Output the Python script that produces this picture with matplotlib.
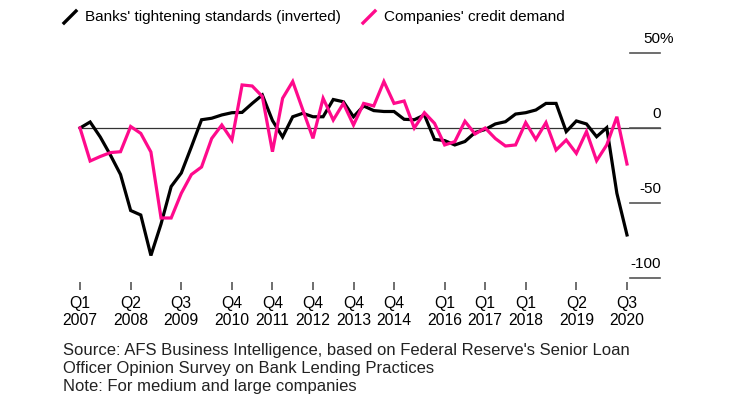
import matplotlib.pyplot as plt
import matplotlib.transforms as mtransforms
from matplotlib.lines import Line2D

plt.rcParams['font.family'] = ['Liberation Sans', 'DejaVu Sans']

# quarterly survey readings, Q1 2007 .. Q3 2020
banks = [0, 4, -6, -18, -31, -55, -58, -85, -64, -39, -30, -12.5, 5.5, 6.5, 8.7,
         10.2, 10.4, 16.4, 22, 5, -6, 7.5, 9.8, 7.5, 7.5, 19, 17.5, 7.5, 14.7, 11.6,
         11, 11, 5.8, 5.5, 8.7, -7.6, -8.4, -11.3, -9, -3, -1, 2.7, 4.2, 9.3, 10.2,
         12, 16.4, 16.4, -2.4, 4.7, 2.7, -5.8, 0.2, -43.5, -71.3]
demand = [0, -22, -19, -16.4, -15.8, 1, -3.6, -16, -60, -60, -43.5, -31, -26, -7, 2,
          -8, 28.7, 28, 21, -15.8, 19.8, 31, 12, -6.9, 19.8, 5.3, 16.4, 2, 16.4, 14.7,
          31, 16.4, 18, 0, 10.2, 3.1, -11.3, -9.1, 4.5, -4, 0, -7, -12, -11.3, 3.6,
          -7.6, 3.6, -14.7, -8, -16.9, -2.4, -21.8, -11.3, 7.5, -24]
quarters = list(range(len(banks)))

tick_pos = [0, 5, 10, 15, 19, 23, 27, 31, 36, 40, 44, 49, 54]
tick_labels = ['Q1\n2007', 'Q2\n2008', 'Q3\n2009', 'Q4\n2010', 'Q4\n2011', 'Q4\n2012',
               'Q4\n2013', 'Q4\n2014', 'Q1\n2016', 'Q1\n2017', 'Q1\n2018', 'Q2\n2019',
               'Q3\n2020']
y_ticks = [50, 0, -50, -100]
y_labels = ['50', '0', '-50', '-100']

PINK = '#ff0a8c'
W, H = 733, 396

fig = plt.figure(figsize=(W / 100, H / 100), dpi=100)
ax = fig.add_axes([80 / W, 118 / H, 547 / W, 225 / H])

ax.plot(quarters, banks, color='black', lw=2.3, solid_joinstyle='miter', clip_on=False, zorder=3)
ax.plot(quarters, demand, color=PINK, lw=2.3, solid_joinstyle='miter', clip_on=False, zorder=4)

ax.set_xlim(0, 54)
ax.set_ylim(-100, 50)

for s in ax.spines.values():
    s.set_visible(False)
ax.spines['bottom'].set_position(('outward', 3))
ax.set_yticks([])
ax.set_xticks(tick_pos, tick_labels)
ax.tick_params(axis='x', length=6, width=1.2, color='#555555', pad=4,
               labelsize=11.3, labelcolor='black')

# right-hand scale, drawn as short rules with labels above
trans = mtransforms.blended_transform_factory(ax.transAxes, ax.transData)
x_end = (660 - 80) / 547
x_start = (630 - 80) / 547
x_lab = (661 - 80) / 547
ax.plot([0, x_end], [0, 0], color='#333333', lw=0.9, transform=trans, clip_on=False, zorder=1)
for v, lab in zip(y_ticks, y_labels):
    ax.plot([x_start, x_end], [v, v], color='#555555', lw=1.2, transform=trans, clip_on=False)
    if v == 50:
        ax.text((674 - 80) / 547, v + 6.7, lab + '%', transform=trans, ha='right',
                va='baseline', fontsize=11)
    else:
        ax.text(x_lab, v + 6.7, lab, transform=trans, ha='right', va='baseline', fontsize=11)

# legend
def px(x, y):
    return x / W, 1 - y / H

for (x0, col, txt, tx) in [(64, 'black', "Banks' tightening standards (inverted)", 85),
                           (363, PINK, "Companies' credit demand", 384)]:
    a, b = px(x0, 23)
    c, d = px(x0 + 12, 11)
    fig.add_artist(Line2D([a, c], [b, d], color=col, lw=2.4, transform=fig.transFigure))
    fig.text(*px(tx, 17), txt, ha='left', va='center', fontsize=11)

# source notes
notes = ["Source: AFS Business Intelligence, based on Federal Reserve's Senior Loan",
         "Officer Opinion Survey on Bank Lending Practices",
         "Note: For medium and large companies"]
for i, line in enumerate(notes):
    fig.text(*px(63, 350 + 18 * i), line, ha='left', va='center', fontsize=12, color='#222222')

fig.savefig('out.png', dpi=100)
